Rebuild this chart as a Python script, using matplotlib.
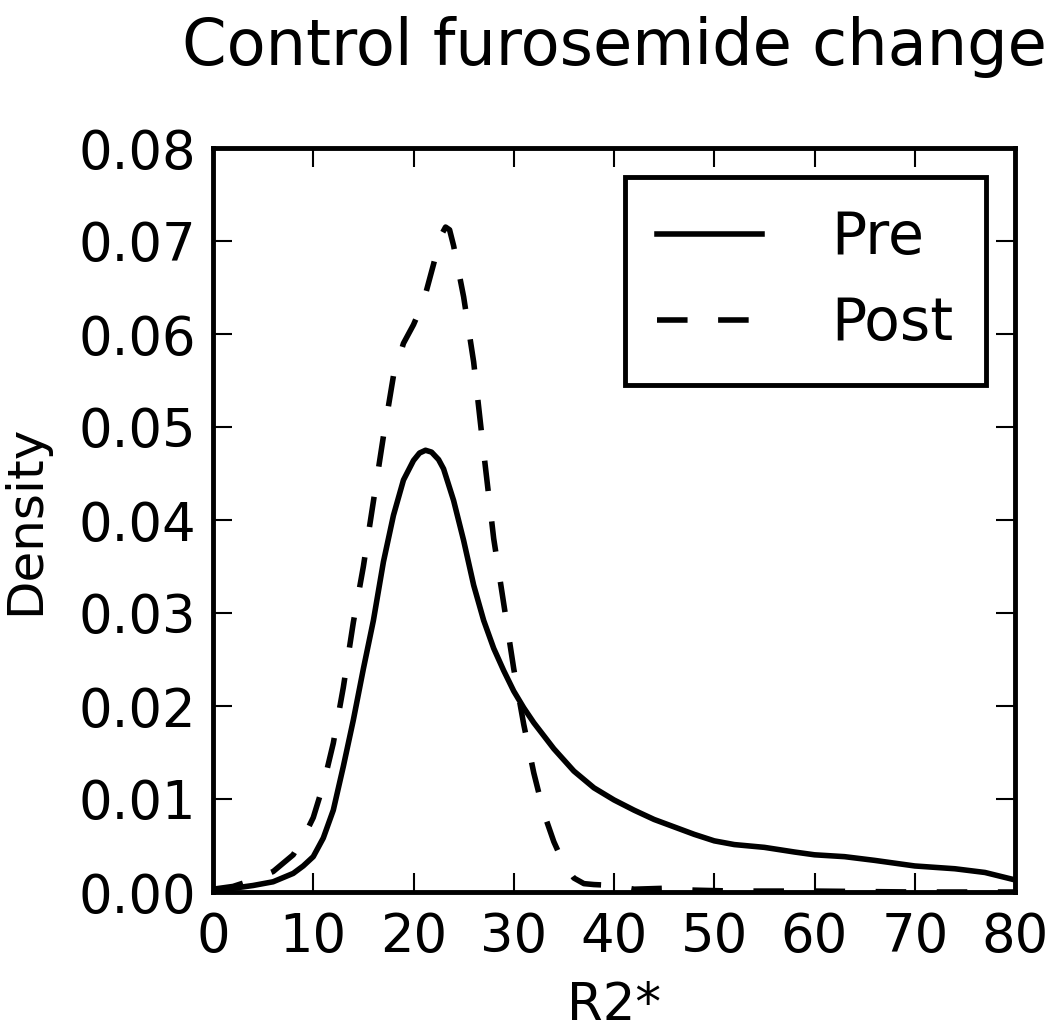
import matplotlib
matplotlib.use("Agg")
import matplotlib.pyplot as plt

# values (R2* vs kernel density)
pre_x = [0, 2, 4, 6, 8, 9, 10, 11, 12, 13, 14, 15, 16, 17, 18, 19, 20, 20.6, 21.2,
         21.8, 22.5, 23, 24, 25, 26, 27, 28, 29, 30, 31, 32, 34, 36, 38, 40, 42,
         44, 46, 48, 50, 52, 55, 58, 60, 63, 66, 70, 74, 77, 80]
pre_y = [0.0002, 0.0004, 0.0007, 0.0011, 0.0020, 0.0028, 0.0038, 0.0058, 0.0088,
         0.0135, 0.0185, 0.0240, 0.0292, 0.0355, 0.0405, 0.0443, 0.0464, 0.0472,
         0.0475, 0.0473, 0.0465, 0.0455, 0.0421, 0.0378, 0.0330, 0.0292, 0.0262,
         0.0238, 0.0216, 0.0198, 0.0182, 0.0154, 0.0130, 0.0112, 0.0099, 0.0088,
         0.0078, 0.0070, 0.0062, 0.0055, 0.0051, 0.0048, 0.0043, 0.0040, 0.0038,
         0.0034, 0.0028, 0.0025, 0.0021, 0.0013]

post_x = [0, 2, 4, 6, 8, 9, 10, 11, 12, 13, 14, 15, 16, 17, 18, 19, 20, 21, 22,
          22.7, 23.2, 23.6, 24, 25, 26, 27, 28, 29, 30, 31, 32, 33, 34, 35, 36, 37,
          38, 40, 42, 45, 48, 52, 60, 70, 80]
post_y = [0.0003, 0.0006, 0.0013, 0.0022, 0.0040, 0.0058, 0.0080, 0.0115, 0.0160,
          0.0220, 0.0290, 0.0350, 0.0420, 0.0490, 0.0555, 0.0590, 0.0610, 0.0635,
          0.0675, 0.0705, 0.0715, 0.0712, 0.0695, 0.0640, 0.0570, 0.0473, 0.0380,
          0.0310, 0.0240, 0.0180, 0.0128, 0.0085, 0.0054, 0.0030, 0.0015, 0.0009,
          0.0008, 0.0007, 0.0003, 0.0004, 0.0002, 0.0001, 0.0001, 0.0000, 0.0000]

x_ticks = [0, 10, 20, 30, 40, 50, 60, 70, 80]
y_ticks = [0.00, 0.01, 0.02, 0.03, 0.04, 0.05, 0.06, 0.07, 0.08]

fig = plt.figure(figsize=(10.5, 10.34), dpi=100)
ax = fig.add_axes([213 / 1050, 1 - 892 / 1034, (1015 - 213) / 1050, (892 - 148) / 1034])

ax.plot(pre_x, pre_y, color='black', lw=4, label='Pre')
post_line, = ax.plot(post_x, post_y, color='black', lw=4, label='Post')
post_line.set_dashes([5.5, 5.5])

ax.set_xlim(0, 80)
ax.set_ylim(0, 0.08)
ax.set_xticks(x_ticks)
ax.set_yticks(y_ticks)
ax.set_yticklabels([f'{v:.2f}' for v in y_ticks])
ax.tick_params(direction='in', length=14, width=1.5, top=True, right=True,
               labelsize=38)
ax.tick_params(axis='x', pad=14)
ax.tick_params(axis='y', pad=12)
for sp in ax.spines.values():
    sp.set_linewidth(3.5)

ax.set_xlabel('R2*', fontsize=37, labelpad=13)
ax.set_ylabel('Density', fontsize=36, labelpad=21)
ax.set_title('Control furosemide change', fontsize=46, pad=60)

leg = ax.legend(loc='upper right', fontsize=42, fancybox=False, framealpha=1,
                handlelength=1.8, handletextpad=1.2, borderaxespad=0.5,
                labelspacing=0.5, borderpad=0.55)
leg.get_frame().set_edgecolor('black')
leg.get_frame().set_linewidth(3.5)

fig.savefig('out.png', dpi=100)
